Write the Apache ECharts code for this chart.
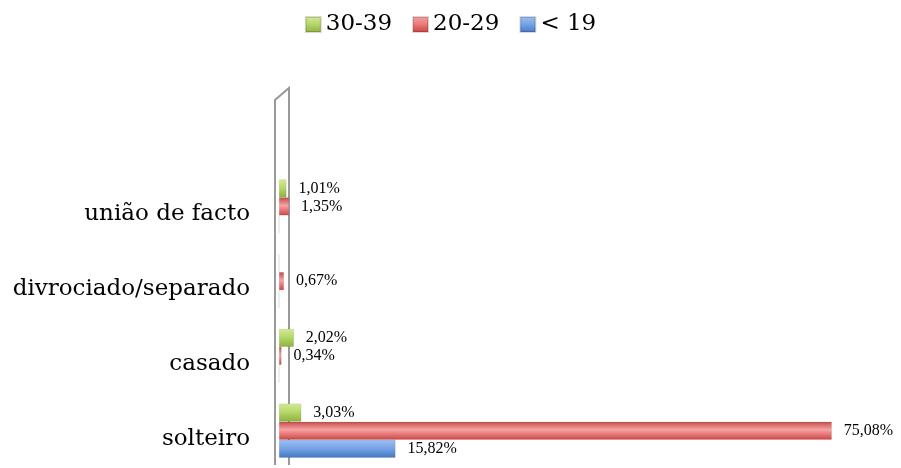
<!DOCTYPE html>
<html><head><meta charset="utf-8">
<script src="https://cdn.jsdelivr.net/npm/echarts@6/dist/echarts.min.js"></script>
<style>html,body{margin:0;padding:0;background:#fff}#c{width:901px;height:468px}</style>
</head><body><div id="c"></div>
<script>
var categories = ['solteiro', 'casado', 'divrociado/separado', 'união de facto'];
var seriesNames = ['30-39', '20-29', '< 19'];
var under19 = [15.82, 0, 0, 0];
var age20to29 = [75.08, 0.34, 0.67, 1.35];
var age30to39 = [3.03, 2.02, 0, 1.01];
var legendOrder = ['30-39', '20-29', '< 19'];

function grad(top, mid, bot) {
  return new echarts.graphic.LinearGradient(0, 0, 0, 1, [
    {offset: 0, color: top}, {offset: 0.45, color: mid}, {offset: 1, color: bot}]);
}
var colors = {
  '< 19': grad('#9cc0f5', '#7aa6e6', '#4477c4'),
  '20-29': grad('#c24a48', '#f6a3a2', '#cf4544'),
  '30-39': grad('#d3ec94', '#b7d86c', '#8fb13c')
};
var legendColors = {
  '< 19': grad('#9cc0f5', '#7aa6e6', '#4477c4'),
  '20-29': grad('#f6a3a2', '#ec7f7e', '#c9403f'),
  '30-39': grad('#d3ec94', '#b7d86c', '#8fb13c')
};
function fmt(p) {
  if (!p.value) return '';
  return p.value.toFixed(2).replace('.', ',') + '%';
}
var dataMap = {'< 19': under19, '20-29': age20to29, '30-39': age30to39};
var series = seriesNames.map(function (n) {
  return {
    name: n, type: 'bar', data: dataMap[n],
    barWidth: 18, barGap: '0%',
    itemStyle: {color: colors[n], borderColor: 'rgba(0,0,0,0.15)', borderWidth: 0.5},
    label: {show: true, position: 'right', distance: 12, formatter: fmt,
      fontFamily: 'Liberation Serif', fontSize: 16, color: '#000'}
  };
});
var chart = echarts.init(document.getElementById('c'));
chart.setOption({
  animation: false,
  legend: {
    top: 8, left: 'center', itemWidth: 15, itemHeight: 15, itemGap: 20,
    data: legendOrder.map(function (n) { return {name: n, itemStyle: {color: legendColors[n]}}; }),
    icon: 'rect',
    textStyle: {fontFamily: 'DejaVu Serif', fontSize: 23, color: '#000'}
  },
  grid: {left: 279, right: 33, top: 169, bottom: -3},
  xAxis: {type: 'value', min: 0, max: 80, show: false},
  yAxis: {
    type: 'category', data: categories,
    axisLine: {show: false}, axisTick: {show: false},
    axisLabel: {margin: 29, color: '#000',
      formatter: function (v) { return '{a|' + v + '}'; },
      rich: {a: {fontFamily: 'DejaVu Serif', fontSize: 23, color: '#000', padding: [16, 0, 0, 0]}}}
  },
  graphic: [{
    type: 'polyline', silent: true, z: -1,
    shape: {points: [[275, 465], [275, 100], [289, 88], [289, 465]]},
    style: {stroke: '#999', lineWidth: 2, fill: null}
  }],
  series: series
});
</script></body></html>
